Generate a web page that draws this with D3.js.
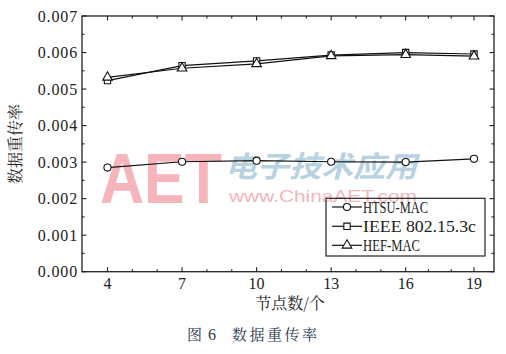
<!DOCTYPE html>
<html><head><meta charset="utf-8">
<script src="https://cdn.jsdelivr.net/npm/d3@7"></script>
<style>body{margin:0;background:#fff}svg{display:block}</style>
</head><body>
<script>
const nodes = [4, 7, 10, 13, 16, 19];
const htsu = [0.00285, 0.00301, 0.00304, 0.00301, 0.00300, 0.00309];
const ieee = [0.00523, 0.00564, 0.00577, 0.00593, 0.00600, 0.00596];
const hef  = [0.00532, 0.00557, 0.00569, 0.00591, 0.00594, 0.00590];
const seriesNames = ["HTSU-MAC", "IEEE 802.15.3c", "HEF-MAC"];
const yTicks = [0, 0.001, 0.002, 0.003, 0.004, 0.005, 0.006, 0.007];
const yTickLabels = ["0.000","0.001","0.002","0.003","0.004","0.005","0.006","0.007"];
const xTicks = [4, 7, 10, 13, 16, 19];

const W = 506, H = 354;
const L = 82, R = 494, T = 16, B = 271.7;
const svg = d3.select("body").append("svg").attr("width", W).attr("height", H);

const x = d3.scaleLinear().domain([4, 16, 19]).range([107.5, 405.7, 474]);
const y = d3.scaleLinear().domain([0, 0.007]).range([B, T]);

const serif = '"Liberation Serif", "Times New Roman", serif';
const cjk = '"Noto Serif CJK SC", "Noto Sans CJK SC", serif';
const sans = '"Liberation Sans", Arial, sans-serif';

function txt(g, xx, yy, s, family, size, fill) {
  return g.append("text").attr("x", xx).attr("y", yy)
    .style("font-family", family).style("font-size", size + "px").attr("fill", fill).text(s);
}

// watermark
const wm = svg.append("g");
txt(wm, 100, 203, "AET", sans, 70, "#f6b4bb").style("font-weight", "bold")
  .attr("textLength", 122).attr("lengthAdjust", "spacingAndGlyphs");
txt(wm, 225, 177, "电子技术应用", '"Noto Sans CJK SC", sans-serif', 29, "#b8d2e2")
  .style("font-weight", "bold").style("font-style", "italic")
  .attr("textLength", 192).attr("lengthAdjust", "spacingAndGlyphs");
txt(wm, 229, 202, "www.ChinaAET.com", sans, 17, "#f6b4bb")
  .attr("textLength", 188).attr("lengthAdjust", "spacingAndGlyphs");

// frame
svg.append("rect").attr("x", L).attr("y", T).attr("width", R - L).attr("height", B - T)
  .attr("fill", "none").attr("stroke", "#222").attr("stroke-width", 1.3);

// ticks
const xMinor = d3.range(5, 20);
const yMinor = d3.range(0.0005, 0.007, 0.001);
const tk = svg.append("g").attr("stroke", "#222").attr("stroke-width", 1.1);
xTicks.forEach(v => {
  tk.append("line").attr("x1", x(v)).attr("x2", x(v)).attr("y1", B).attr("y2", B - 4.5);
  tk.append("line").attr("x1", x(v)).attr("x2", x(v)).attr("y1", T).attr("y2", T + 4.5);
});
xMinor.filter(v => !xTicks.includes(v)).forEach(v => {
  tk.append("line").attr("x1", x(v)).attr("x2", x(v)).attr("y1", B).attr("y2", B - 2.5);
  tk.append("line").attr("x1", x(v)).attr("x2", x(v)).attr("y1", T).attr("y2", T + 2.5);
});
yTicks.forEach(v => {
  tk.append("line").attr("x1", L).attr("x2", L + 4.5).attr("y1", y(v)).attr("y2", y(v));
  tk.append("line").attr("x1", R).attr("x2", R - 4.5).attr("y1", y(v)).attr("y2", y(v));
});
yMinor.forEach(v => {
  tk.append("line").attr("x1", L).attr("x2", L + 2.5).attr("y1", y(v)).attr("y2", y(v));
  tk.append("line").attr("x1", R).attr("x2", R - 2.5).attr("y1", y(v)).attr("y2", y(v));
});

// tick labels
yTicks.forEach((v, i) => {
  txt(svg, 37.7, y(v) + 5.5, yTickLabels[i], serif, 16, "#222")
    .attr("textLength", 39.5).attr("lengthAdjust", "spacing");
});
xTicks.forEach(v => {
  txt(svg, x(v), 289, String(v), serif, 16, "#222").attr("text-anchor", "middle");
});

// axis titles
txt(svg, 290, 309, "节点数/个", cjk, 16, "#222").attr("text-anchor", "middle");
svg.append("text").attr("transform", "translate(21,144) rotate(-90)").attr("text-anchor", "middle")
  .style("font-family", cjk).style("font-size", "16px").attr("fill", "#222").text("数据重传率");

// caption
txt(svg, 187, 340, "图", cjk, 15, "#2b3a4e");
txt(svg, 208, 340, "6", serif, 16, "#2b3a4e");
txt(svg, 232, 340, "数据重传率", cjk, 15, "#2b3a4e")
  .attr("textLength", 85).attr("lengthAdjust", "spacing");

// series
const line = d3.line().x((d, i) => x(nodes[i])).y(d => y(d));
const data = [htsu, ieee, hef];
const shapes = [d3.symbolCircle, d3.symbolSquare, d3.symbolTriangle];
const sizes = [40, 40, 40];
data.forEach((s, k) => {
  svg.append("path").attr("d", line(s)).attr("fill", "none").attr("stroke", "#111").attr("stroke-width", 1.2);
});
data.forEach((s, k) => {
  svg.append("g").selectAll("path").data(s).join("path")
    .attr("transform", (d, i) => `translate(${x(nodes[i])},${y(d)})`)
    .attr("d", d3.symbol().type(shapes[k]).size(sizes[k]))
    .attr("fill", "#fff").attr("stroke", "#111").attr("stroke-width", 1.1);
});

// legend
const lg = svg.append("g");
lg.append("rect").attr("x", 326).attr("y", 198.3).attr("width", 159).attr("height", 57.7)
  .attr("fill", "none").attr("stroke", "#222").attr("stroke-width", 1.2);
const rowsY = [207, 226.3, 245.3];
const textW = [65, 113, 57];
seriesNames.forEach((n, k) => {
  lg.append("line").attr("x1", 332).attr("x2", 362).attr("y1", rowsY[k]).attr("y2", rowsY[k])
    .attr("stroke", "#111").attr("stroke-width", 1.2);
  lg.append("path").attr("transform", `translate(347,${rowsY[k]})`)
    .attr("d", d3.symbol().type(shapes[k]).size(sizes[k])).attr("fill", "#fff")
    .attr("stroke", "#111").attr("stroke-width", 1.1);
  txt(lg, 363, rowsY[k] + 5.5, n, serif, 16, "#222")
    .attr("textLength", textW[k]).attr("lengthAdjust", "spacingAndGlyphs");
});
</script>
</body></html>
